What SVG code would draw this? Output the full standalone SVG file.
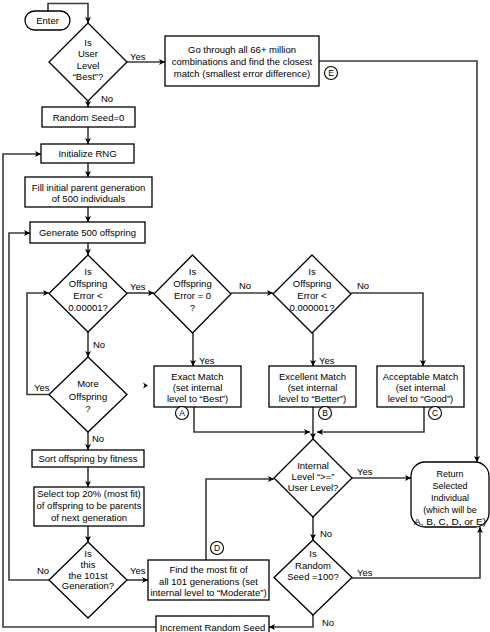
<svg xmlns="http://www.w3.org/2000/svg" width="490" height="632" viewBox="0 0 490 632">
<style>
.s{fill:#fff;stroke:#000;stroke-width:1.3}
.c{fill:none;stroke:#3a3a3a;stroke-width:1.6}
text{font-family:"Liberation Sans",Arial,sans-serif;font-size:9.5px;fill:#000;text-anchor:middle}
.l{text-anchor:start}
.ci{fill:#fff;stroke:#000;stroke-width:1.1}
.sm{font-size:8.5px}
.r{font-size:9px}
</style>
<defs>
<marker id="a" viewBox="0 0 8 8" refX="8" refY="4" markerWidth="6" markerHeight="6" orient="auto" markerUnits="userSpaceOnUse">
<path d="M0,0 L8,4 L0,8 L2,4 Z" fill="#000"/>
</marker>
</defs>
<rect width="490" height="632" fill="#fff"/>

<g id="connectors">
<path class="c" d="M48,11 V3.5 H88 V23" marker-end="url(#a)"/>
<path class="c" d="M127,62 H165" marker-end="url(#a)"/>
<path class="c" d="M319,61 H477 V462" marker-end="url(#a)"/>
<path class="c" d="M88,101 V107" marker-end="url(#a)"/>
<path class="c" d="M88,127 V144" marker-end="url(#a)"/>
<path class="c" d="M88,163 V177" marker-end="url(#a)"/>
<path class="c" d="M88,207 V222" marker-end="url(#a)"/>
<path class="c" d="M88,243 V255" marker-end="url(#a)"/>
<path class="c" d="M127,293 H154" marker-end="url(#a)"/>
<path class="c" d="M231,293 H273" marker-end="url(#a)"/>
<path class="c" d="M351,293 H423 V366" marker-end="url(#a)"/>
<path class="c" d="M193,333 V366" marker-end="url(#a)"/>
<path class="c" d="M313,333 V366" marker-end="url(#a)"/>
<path class="c" d="M88,332 V357" marker-end="url(#a)"/>
<path class="c" d="M50,394.5 H27 V293 H49" marker-end="url(#a)"/>
<path class="c" d="M88,432 V450" marker-end="url(#a)"/>
<path class="c" d="M88,467 V487" marker-end="url(#a)"/>
<path class="c" d="M88,526 V542" marker-end="url(#a)"/>
<path class="c" d="M127,580 H148" marker-end="url(#a)"/>
<path class="c" d="M50,580 H9 V233 H30" marker-end="url(#a)"/>
<path class="c" d="M206,560 V479 H274" marker-end="url(#a)"/>
<path class="c" d="M194,407 V432 H310" marker-end="url(#a)"/>
<path class="c" d="M424,407 V432 H317" marker-end="url(#a)"/>
<path class="c" d="M313,407 V439" marker-end="url(#a)"/>
<path class="c" d="M352,478 H411" marker-end="url(#a)"/>
<path class="c" d="M313,517 V540" marker-end="url(#a)"/>
<path class="c" d="M352,578 H480 V527" marker-end="url(#a)"/>
<path class="c" d="M313,615 V627 H269" marker-end="url(#a)"/>
<path class="c" d="M156,627 H3 V154 H41" marker-end="url(#a)"/>
<path d="M143,382.5 L148,385.5 L143,388.5 L144.5,385.5 Z" fill="#000"/>
<text class="l" x="130" y="60">Yes</text>
<text class="l" x="101" y="101.5">No</text>
<text class="l" x="130" y="289.5">Yes</text>
<text class="l" x="239" y="288.5">No</text>
<text class="l" x="357" y="288.5">No</text>
<text class="l" x="199" y="363.5">Yes</text>
<text class="l" x="319" y="363.5">Yes</text>
<text class="l" x="93" y="347.5">No</text>
<text class="l" x="34" y="390.5">Yes</text>
<text class="l" x="92" y="441.5">No</text>
<text class="l" x="130" y="573.5">Yes</text>
<text class="l" x="37" y="573.5">No</text>
<text class="l" x="357" y="474.5">Yes</text>
<text class="l" x="320" y="536.5">No</text>
<text class="l" x="357" y="575.5">Yes</text>
<text class="l" x="322" y="625.5">No</text>
</g>

<g id="enter"><rect class="s" x="25" y="11" width="45" height="19" rx="9.5"/><text x="47.5" y="24">Enter</text></g>
<g id="d-user-best"><path class="s" d="M88,23 L127,62 L88,101 L49,62 Z"/>
<text x="88" y="45.5">Is</text><text x="88" y="57">User</text><text x="88" y="68.5">Level</text><text x="88" y="80">“Best”?</text></g>
<g id="go-through"><rect class="s" x="165" y="36" width="154" height="50"/>
<text x="242" y="52.5">Go through all 66+ million</text><text x="242" y="64.5">combinations and find the closest</text><text x="242" y="76.5">match (smallest error difference)</text>
<circle class="ci" cx="331" cy="73" r="6.5"/><text class="sm" x="331" y="76.3">E</text></g>
<g id="random-seed"><rect class="s" x="42" y="107" width="93" height="20"/><text x="88.5" y="120.5">Random Seed=0</text></g>
<g id="init-rng"><rect class="s" x="41" y="144" width="93" height="19"/><text x="87.5" y="157">Initialize RNG</text></g>
<g id="fill"><rect class="s" x="25" y="177" width="127" height="30"/><text x="88.5" y="190.5">Fill initial parent generation</text><text x="88.5" y="202">of 500 individuals</text></g>
<g id="generate"><rect class="s" x="30" y="222" width="115" height="21"/><text x="87.5" y="236">Generate 500 offspring</text></g>
<g id="d-error1"><path class="s" d="M88,255 L127,293.5 L88,332 L49,293.5 Z"/>
<text x="88" y="274.5">Is</text><text x="88" y="286.5">Offspring</text><text x="88" y="298.5">Error &lt;</text><text x="88" y="310.5">0.00001?</text></g>
<g id="d-error0"><path class="s" d="M192.5,255 L231,294 L192.5,333 L154,294 Z"/>
<text x="192.5" y="274.5">Is</text><text x="192.5" y="286.5">Offspring</text><text x="192.5" y="298.5">Error = 0</text><text x="192.5" y="310.5">?</text></g>
<g id="d-error2"><path class="s" d="M312,255 L351,294 L312,333 L273,294 Z"/>
<text x="312" y="274.5">Is</text><text x="312" y="286.5">Offspring</text><text x="312" y="298.5">Error &lt;</text><text x="312" y="310.5">0.000001?</text></g>
<g id="exact"><rect class="s" x="154" y="366" width="87" height="41"/>
<text x="197.5" y="379.5">Exact Match</text><text x="197.5" y="390.5">(set internal</text><text x="197.5" y="401.5">level to “Best”)</text>
<circle class="ci" cx="182" cy="413" r="6.5"/><text class="sm" x="182" y="416.3">A</text></g>
<g id="excellent"><rect class="s" x="269" y="366" width="87" height="41"/>
<text x="312.5" y="379.5">Excellent Match</text><text x="312.5" y="390.5">(set internal</text><text x="312.5" y="401.5">level to “Better”)</text>
<circle class="ci" cx="325" cy="413" r="6.5"/><text class="sm" x="325" y="416.3">B</text></g>
<g id="acceptable"><rect class="s" x="377" y="366" width="87" height="41"/>
<text x="420.5" y="379.5">Acceptable Match</text><text x="420.5" y="390.5">(set internal</text><text x="420.5" y="401.5">level to “Good”)</text>
<circle class="ci" cx="435" cy="413" r="6.5"/><text class="sm" x="435" y="416.3">C</text></g>
<g id="d-more"><path class="s" d="M88,357 L127,394.5 L88,432 L49,394.5 Z"/>
<text x="88" y="387">More</text><text x="88" y="399.5">Offspring</text><text x="88" y="411.5">?</text></g>
<g id="sort"><rect class="s" x="32" y="450" width="112" height="17"/><text x="88" y="461.5">Sort offspring by fitness</text></g>
<g id="select"><rect class="s" x="34" y="487" width="110" height="39"/>
<text x="89" y="496.5">Select top 20% (most fit)</text><text x="89" y="508.5">of offspring to be parents</text><text x="89" y="520.5">of next generation</text></g>
<g id="d-101"><path class="s" d="M88,542 L127,580 L88,618 L49,580 Z"/>
<text x="88" y="556.5">Is</text><text x="88" y="567.5">this</text><text x="88" y="578.5">the 101st</text><text x="88" y="589">Generation?</text></g>
<g id="find"><rect class="s" x="148" y="560" width="121" height="40"/>
<text x="208.5" y="572.5">Find the most fit of</text><text x="208.5" y="584.5">all 101 generations (set</text><text x="208.5" y="595.5">internal level to “Moderate”)</text>
<circle class="ci" cx="217" cy="548" r="6.5"/><text class="sm" x="217" y="551.3">D</text></g>
<g id="d-internal"><path class="s" d="M313,439 L352,478 L313,517 L274,478 Z"/>
<text x="313" y="468.5">Internal</text><text x="313" y="479.5">Level “&gt;=”</text><text x="313" y="490.5">User Level?</text></g>
<g id="return"><rect class="s" x="411" y="462" width="78" height="65" rx="14"/>
<text class="r" x="450" y="476.5">Return</text><text class="r" x="450" y="488.5">Selected</text><text class="r" x="450" y="500.5">Individual</text><text class="r" x="450" y="513">(which will be</text><text class="r" x="450" y="525" textLength="72" lengthAdjust="spacingAndGlyphs">A, B, C, D, or E)</text></g>
<g id="d-seed"><path class="s" d="M313,540 L352,577.5 L313,615 L274,577.5 Z"/>
<text x="313" y="556.5">Is</text><text x="313" y="568.5">Random</text><text x="313" y="579.5">Seed =100?</text></g>
<g id="increment"><rect class="s" x="156" y="616" width="113" height="24"/><text x="212.5" y="630.5">Increment Random Seed</text></g>
</svg>
